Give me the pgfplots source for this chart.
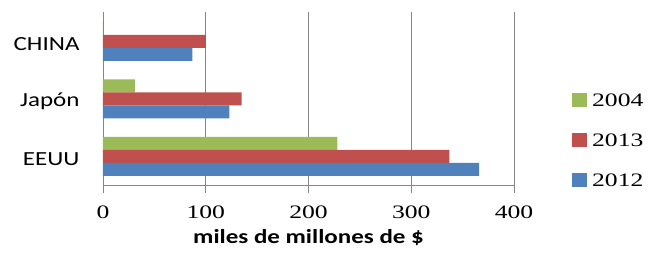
\documentclass[border=0pt]{standalone}
\usepackage{fontspec}
\setmainfont{Carlito}[FakeStretch=1.25]
\newfontfamily\numfontfam{Liberation Serif}[FakeStretch=1.35]
\usepackage{pgfplots}
\pgfplotsset{compat=1.18}
\definecolor{cg}{RGB}{155,187,89}
\definecolor{cr}{RGB}{192,80,77}
\definecolor{cb}{RGB}{79,129,189}
\definecolor{gridc}{RGB}{134,134,134}
\newcommand\catfont{\fontsize{20pt}{24pt}\selectfont}
\newcommand\numfont{\numfontfam\fontsize{19pt}{22pt}\selectfont}
\begin{document}
\begin{tikzpicture}
\useasboundingbox (-103pt,-75pt) rectangle (547pt,185pt);
\begin{axis}[
  at={(0pt,0pt)}, anchor=south west,
  scale only axis, width=411pt, height=172.5pt,
  xbar, bar width=13pt,
  xmin=0, xmax=400, ymin=0.5, ymax=3.5,
  axis x line*=bottom, axis y line*=left,
  axis line style={gridc, line width=0.8pt},
  xtick={0,100,200,300,400}, xticklabels={0,100,200,300,400},
  xticklabel style={font=\numfont, yshift=-9pt},
  tick align=outside, major tick length=8pt,
  xtick style={gridc, line width=0.8pt},
  ytick={1,2,3}, yticklabels={EEUU,Japón,CHINA},
  ytick style={draw=none},
  yticklabel style={font=\catfont, anchor=east, xshift=-12pt, yshift=-3pt},
  xmajorgrids, grid style={gridc, line width=0.8pt},
  xlabel={\bfseries miles de millones de \$},
  xlabel style={font=\catfont, at={(axis description cs:0.5,0)}, anchor=center, yshift=-53pt},
  legend cell align=left,
  legend style={draw=none, fill=none, at={(rel axis cs:1.141,0.535)}, anchor=north west,
    inner sep=0pt, row sep=26pt, column sep=5pt,
    nodes={inner sep=0pt, font=\numfont, text height=14pt, text depth=0pt}},
  legend image code/.code={\fill[#1] (0pt,-7pt) rectangle (15pt,7pt);},
]
\addplot[fill=cg, draw=none, bar shift=13pt] coordinates {(228,1) (31,2) (0,3)};
\addplot[fill=cr, draw=none, bar shift=0pt] coordinates {(337,1) (135,2) (100,3)};
\addplot[fill=cb, draw=none, bar shift=-13pt] coordinates {(366,1) (123,2) (87,3)};
\legend{2004,2013,2012}
\end{axis}
\end{tikzpicture}
\end{document}
